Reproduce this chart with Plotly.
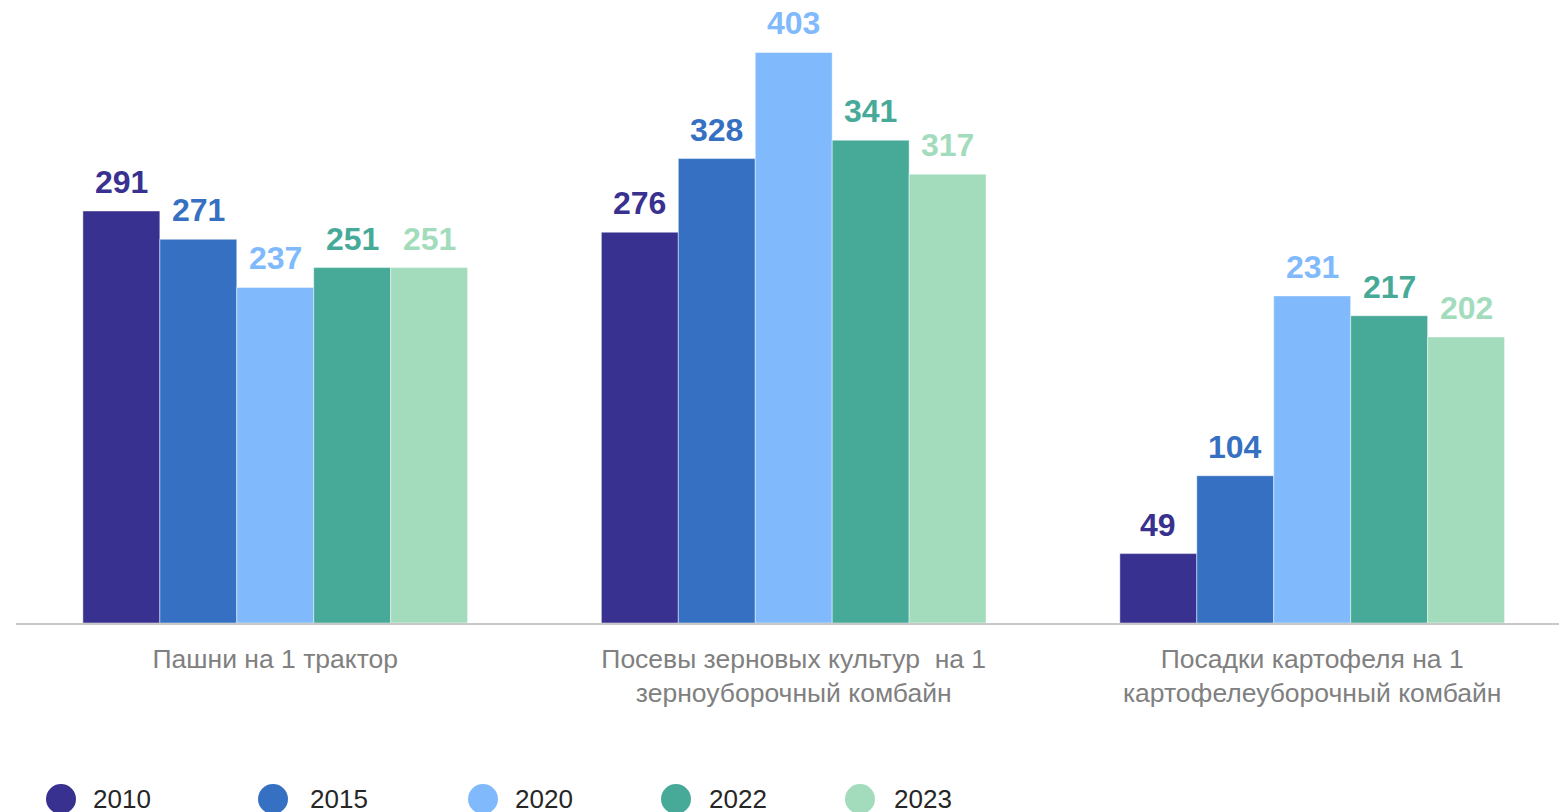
import plotly.graph_objects as go

categories = ["Пашни на 1 трактор",
              "Посевы зерновых культур  на 1<br>зерноуборочный комбайн",
              "Посадки картофеля на 1<br>картофелеуборочный комбайн"]
years = ["2010", "2015", "2020", "2022", "2023"]
v2010 = [291, 276, 49]
v2015 = [271, 328, 104]
v2020 = [237, 403, 231]
v2022 = [251, 341, 217]
v2023 = [251, 317, 202]
series = [v2010, v2015, v2020, v2022, v2023]
colors = ["#38318f", "#3570c2", "#80bafc", "#47aa98", "#a3dcbd"]

W, H = 1559, 812
ML, MR, MT, MB = 16, 0, 0, 189
PW = W - ML - MR
PH = H - MT - MB
FONT = "Arial, Liberation Sans, sans-serif"
XRANGE = [-0.5, 2.476]

def px_x(px):
    return (px - ML) / PW

def px_y(py):
    return (H - MB - py) / PH

fig = go.Figure()
for name, vals, col in zip(years, series, colors):
    fig.add_trace(go.Bar(x=categories, y=vals, name=name,
                         marker=dict(color=col, line=dict(color="rgba(255,255,255,0.45)", width=1)),
                         showlegend=False))

n = len(years)
bargap = 0.258
cat_w = PW / (XRANGE[1] - XRANGE[0])
bw = cat_w * (1 - bargap) / n
annotations = []
for i, (vals, col) in enumerate(zip(series, colors)):
    for j, v in enumerate(vals):
        annotations.append(dict(x=categories[j], y=v, xref="x", yref="y",
                                text=f"<b>{v}</b>", showarrow=False,
                                xshift=(i - (n - 1) / 2) * bw, yshift=29,
                                yanchor="middle",
                                font=dict(size=32, color=col, family=FONT)))

# custom legend (pixel layout)
leg_circle_x = [61, 273, 483, 676, 860]
leg_text_x = [92, 309, 514, 708, 893]
shapes = []
for name, col, cx, tx in zip(years, colors, leg_circle_x, leg_text_x):
    shapes.append(dict(type="circle", xref="paper", yref="paper",
                       x0=px_x(cx - 15), x1=px_x(cx + 15),
                       y0=px_y(814), y1=px_y(784),
                       fillcolor=col, line=dict(width=0)))
    annotations.append(dict(x=px_x(tx - 1), y=px_y(799), xref="paper", yref="paper",
                            text=name, showarrow=False, xanchor="left", yanchor="middle",
                            font=dict(size=26, color="#262626", family=FONT)))

fig.update_layout(
    width=W, height=H,
    margin=dict(l=ML, r=MR, t=MT, b=MB),
    paper_bgcolor="white", plot_bgcolor="white",
    barmode="group", bargap=bargap, bargroupgap=0,
    showlegend=False,
    annotations=annotations, shapes=shapes,
    font=dict(family=FONT),
)
fig.update_xaxes(type="category", range=XRANGE, showline=True, linecolor="#c8c8c8", linewidth=2,
                 ticks="outside", ticklen=11, tickcolor="rgba(0,0,0,0)",
                 tickfont=dict(size=26.5, color="#808080"), showgrid=False)
fig.update_yaxes(range=[0, 440], visible=False, showgrid=False)

fig.write_html("out.html", config={"displayModeBar": False},
               post_script="document.body.style.margin='0';document.body.style.overflow='hidden';")
